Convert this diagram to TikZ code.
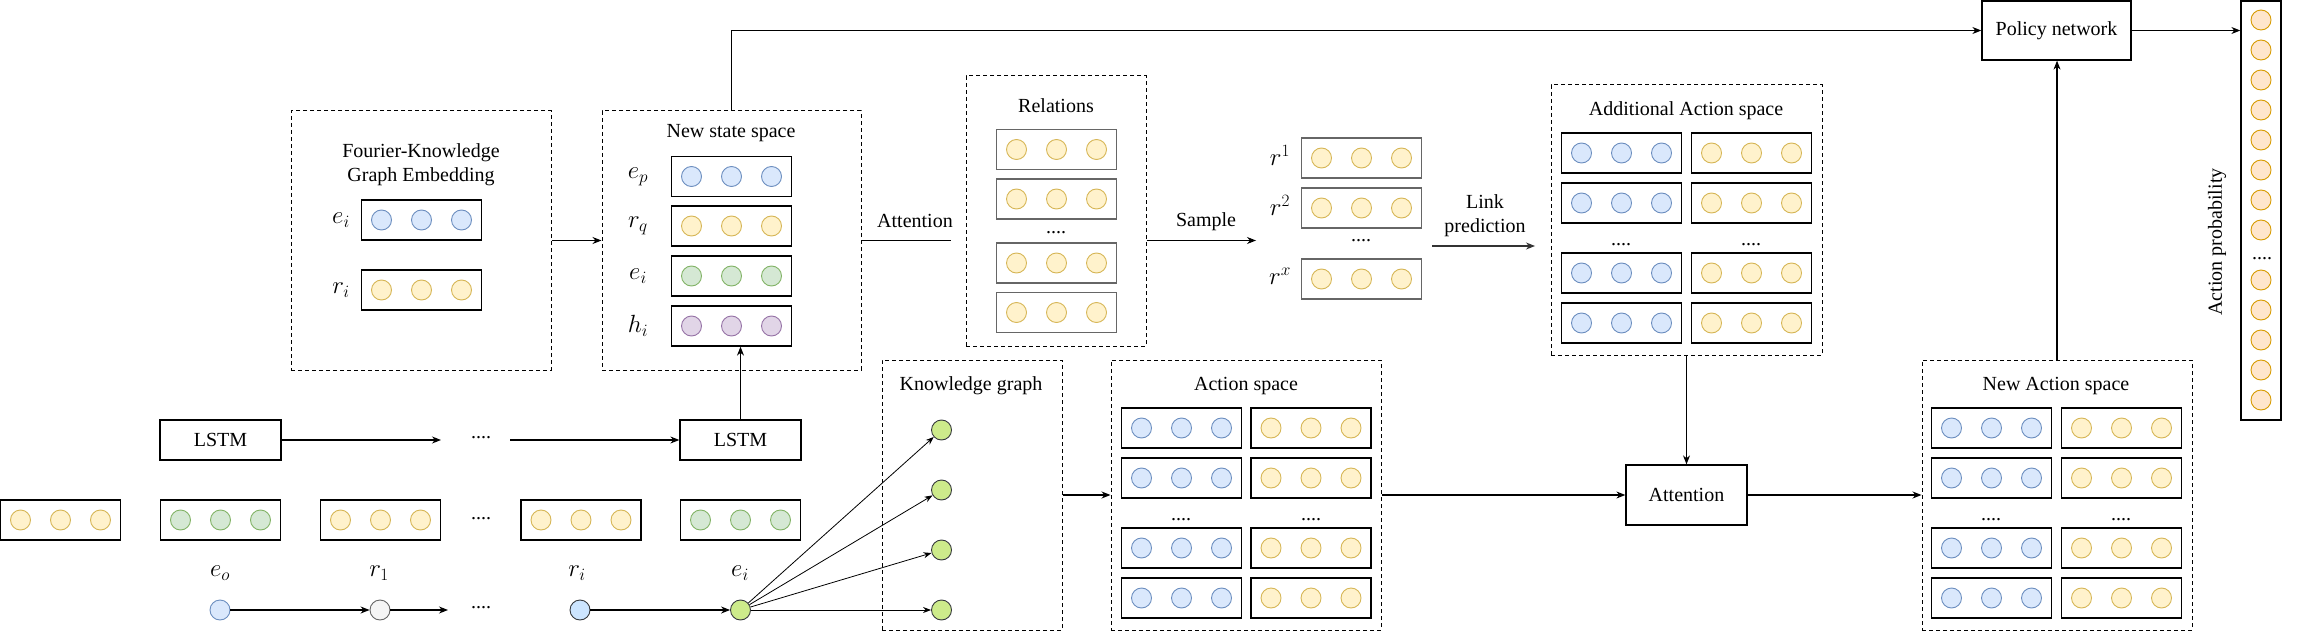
\documentclass[tikz,border=0pt]{standalone}
\usepackage{fontspec}
\setmainfont{Liberation Serif}
\usetikzlibrary{arrows.meta,calc}
\definecolor{bluef}{HTML}{DAE8FC}\definecolor{bluel}{HTML}{6C8EBF}
\definecolor{yelf}{HTML}{FFF2CC}\definecolor{yell}{HTML}{D6B656}
\definecolor{grnf}{HTML}{D5E8D4}\definecolor{grnl}{HTML}{82B366}
\definecolor{purf}{HTML}{E1D5E7}\definecolor{purl}{HTML}{9673A6}
\definecolor{orf}{HTML}{FFE6CC}\definecolor{orl}{HTML}{D79B00}
\definecolor{limef}{HTML}{CDEB8B}\definecolor{darkl}{HTML}{36393D}
\definecolor{grayf}{HTML}{F5F5F5}\definecolor{grayl}{HTML}{666666}
\definecolor{bluef2}{HTML}{CCE5FF}
\tikzset{
 txt/.style={font=\fontsize{20}{24}\selectfont, inner sep=0pt, align=center},
 mlab/.style={font=\fontsize{25}{28}\selectfont, inner sep=0pt},
 dbox/.style={draw, dash pattern=on 4pt off 3pt, line width=1pt, inner sep=0pt},
 sbox/.style={draw, line width=1.3pt, inner sep=0pt, font=\fontsize{20}{24}\selectfont},
 vecbox/.style={draw, line width=1.3pt, minimum width=120pt, minimum height=40pt, inner sep=0pt},
 gvec/.style={draw=black!60, line width=1.6pt},
 circ/.style={circle, minimum size=20pt, inner sep=0pt, line width=0.9pt},
 cblue/.style={circ, fill=bluef, draw=bluel},
 cyel/.style={circ, fill=yelf, draw=yell},
 cgrn/.style={circ, fill=grnf, draw=grnl},
 cpur/.style={circ, fill=purf, draw=purl},
 corg/.style={circ, fill=orf, draw=orl},
 clime/.style={circ, fill=limef, draw=darkl},
 cgray/.style={circ, fill=grayf, draw=grayl},
 cblue2/.style={circ, fill=bluef2, draw=darkl},
 arr/.style={line width=1.1pt, -{Stealth[length=9pt,width=7pt]}},
 thinarr/.style={line width=0.8pt, -{Stealth[length=8pt,width=6pt]}},
 ln/.style={line width=1.1pt},
 dots/.style={font=\fontsize{20}{24}\selectfont, inner sep=0pt},
}
\newcommand{\myvec}[5][]{%
  \node[vecbox,#1] (#2) at (#3,#4) {};
  \foreach \k/\dx in {1/-40,2/0,3/40}{\node[#5] (#2-\k) at ($(#2.center)+(\dx,0)$) {};}%
}
\begin{document}
\begin{tikzpicture}[x=1pt,y=-1pt]
\useasboundingbox (0,0) rectangle (2302,631);

% ---------- dashed containers ----------
\node[dbox, minimum width=260pt, minimum height=259pt] (fourier) at (421,240.5) {};
\node[dbox, minimum width=259pt, minimum height=259pt] (newstate) at (731.5,240.5) {};
\node[dbox, minimum width=180pt, minimum height=270pt] (relations) at (1056,211) {};
\node[dbox, minimum width=271pt, minimum height=270pt] (addact) at (1686.5,220) {};
\node[dbox, minimum width=180pt, minimum height=270pt] (kg) at (972,495) {};
\node[dbox, minimum width=270pt, minimum height=270pt] (actsp) at (1246,495) {};
\node[dbox, minimum width=270pt, minimum height=270pt] (newact) at (2057,495) {};

% ---------- titles ----------
\node[txt] (tfourier) at (421,165) {Fourier-Knowledge\\Graph Embedding};
\node[txt] (tnewstate) at (731,133) {New state space};
\node[txt] (trel) at (1056,106) {Relations};
\node[txt] (taddact) at (1686,111) {Additional Action space};
\node[txt] (tkg) at (971,386) {Knowledge graph};
\node[txt] (tactsp) at (1246,386) {Action space};
\node[txt] (tnewact) at (2056,386) {New Action space};

% ---------- Fourier vectors ----------
\myvec{fe}{421.5}{220}{cblue}
\myvec{fr}{421.5}{290}{cyel}
\node[mlab] (lfe) at (341,220) {$e_i$};
\node[mlab] (lfr) at (341,290) {$r_i$};

% ---------- New state vectors ----------
\myvec{sp}{731.5}{176.5}{cblue}
\myvec{sq}{731.5}{226}{cyel}
\myvec{si}{731.5}{276}{cgrn}
\myvec{sh}{731.5}{326}{cpur}
\node[mlab] (lsp) at (638,176.5) {$e_p$};
\node[mlab] (lsq) at (638,226) {$r_q$};
\node[mlab] (lsi) at (638,276) {$e_i$};
\node[mlab] (lsh) at (638,326) {$h_i$};

% ---------- Relations ----------
\myvec[gvec]{ra}{1056.5}{149.5}{cyel}
\myvec[gvec]{rb}{1056.5}{199}{cyel}
\node[dots] (rdots) at (1056,233) {....};
\myvec[gvec]{rc}{1056.5}{263}{cyel}
\myvec[gvec]{rd}{1056.5}{312.5}{cyel}

% ---------- sampled r ----------
\myvec[gvec]{r1}{1361.5}{158}{cyel}
\myvec[gvec]{r2}{1361.5}{208}{cyel}
\node[dots] (r12dots) at (1361,241) {....};
\myvec[gvec]{rx}{1361.5}{279}{cyel}
\node[mlab] (lr1) at (1280,155) {$r^1$};
\node[mlab] (lr2) at (1280,205) {$r^2$};
\node[mlab] (lrx) at (1280,276) {$r^x$};

% ---------- Additional action space ----------
\foreach \n/\yy in {1/153,2/203,3/273,4/323}{
  \myvec{aal\n}{1621.5}{\yy}{cblue}
  \myvec{aar\n}{1751.5}{\yy}{cyel}
}
\node[dots] (aadl) at (1621,245) {....};
\node[dots] (aadr) at (1751,245) {....};

% ---------- Action space ----------
\foreach \n/\yy in {1/428,2/478,3/548,4/598}{
  \myvec{asl\n}{1181.5}{\yy}{cblue}
  \myvec{asr\n}{1311}{\yy}{cyel}
}
\node[dots] (asdl) at (1181,520) {....};
\node[dots] (asdr) at (1311,520) {....};

% ---------- New action space ----------
\foreach \n/\yy in {1/428,2/478,3/548,4/598}{
  \myvec{nal\n}{1991.5}{\yy}{cblue}
  \myvec{nar\n}{2121.5}{\yy}{cyel}
}
\node[dots] (nadl) at (1991,520) {....};
\node[dots] (nadr) at (2121,520) {....};

% ---------- Knowledge graph nodes ----------
\foreach \n/\yy in {1/430,2/490,3/550,4/610}{
  \node[clime] (kg\n) at (941.5,\yy) {};
}

% ---------- solid boxes ----------
\node[sbox, minimum width=121pt, minimum height=40pt] (lstma) at (220.5,440) {LSTM};
\node[sbox, minimum width=121pt, minimum height=40pt] (lstmb) at (740.5,440) {LSTM};
\node[sbox, minimum width=121pt, minimum height=60pt] (attn) at (1686.5,495) {Attention};
\node[sbox, minimum width=149pt, minimum height=59pt] (policy) at (2056.5,30.5) {Policy network};
\node[draw, line width=1.3pt, minimum width=40pt, minimum height=419pt, inner sep=0pt] (col) at (2261,210.5) {};
\foreach \i/\yy in {1/20,2/50,3/80,4/110,5/140,6/170,7/200,8/230,9/280,10/310,11/340,12/370,13/400}{
  \node[corg] (p\i) at (2261,\yy) {};
}
\node[dots] (pdots) at (2262,259) {....};
\node[txt, rotate=90] (tprob) at (2217,242) {Action probability};

% ---------- bottom input vectors ----------
\myvec{v0}{60.5}{520}{cyel}
\myvec{v1}{220.5}{520}{cgrn}
\myvec{v2}{380.5}{520}{cyel}
\node[dots] (vdots) at (481,519) {....};
\myvec{v3}{581}{520}{cyel}
\myvec{v4}{740.5}{520}{cgrn}
\node[mlab] (le0) at (220,573) {$e_o$};
\node[mlab] (lr1b) at (379,573) {$r_1$};
\node[mlab] (lrib) at (577,573) {$r_i$};
\node[mlab] (leib) at (740,573) {$e_i$};

% ---------- bottom path nodes ----------
\node[cblue] (n0) at (220,610) {};
\node[cgray] (n1) at (380,610) {};
\node[dots] (ndots) at (481,608) {....};
\node[cblue2] (n2) at (580,610) {};
\node[clime] (n3) at (740.5,610) {};
\coordinate (n1end) at (448,610);
\draw[arr] (n0) -- (n1);
\draw[arr] (n1) -- (n1end);
\draw[arr] (n2) -- (n3);
\foreach \n in {1,2,3,4}{\draw[thinarr] (n3) -- (kg\n);}

% ---------- LSTM chain ----------
\coordinate (lstmdotsa) at (441,440);
\coordinate (lstmdotsb) at (510,440);
\node[dots] (ldots) at (481,438) {....};
\draw[arr] (lstma.east) -- (lstmdotsa);
\draw[arr] (lstmdotsb) -- (lstmb.west);
\draw[arr] (lstmb.north) -- (lstmb.north |- sh.south);

% ---------- main connectors ----------
\draw[arr] (fourier.east) -- (newstate.west);
\draw[arr] (newstate.north) |- (policy.west);
\coordinate (attend) at (951,240.5);
\draw[ln] (newstate.east) -- (attend);
\node[txt] (tattn) at (915,221) {Attention};
\coordinate (samend) at (1256,240.5);
\draw[arr] (relations.east |- samend) -- (samend);
\node[txt] (tsample) at (1206,222) {Sample};
\coordinate (lpa) at (1432,246);
\coordinate (lpb) at (1535,246);
\draw[arr, draw=black!80] (lpa) -- (lpb);
\node[txt] (tlink) at (1485,216) {Link\\prediction};
\draw[arr] (addact.south) -- (attn.north);
\draw[arr] (kg.east) -- (actsp.west);
\draw[arr] (actsp.east) -- (attn.west);
\draw[arr] (attn.east) -- (newact.west);
\draw[arr] (newact.north) -- (newact.north |- policy.south);
\draw[arr] (policy.east) -- (policy.east -| col.west);
\end{tikzpicture}
\end{document}
